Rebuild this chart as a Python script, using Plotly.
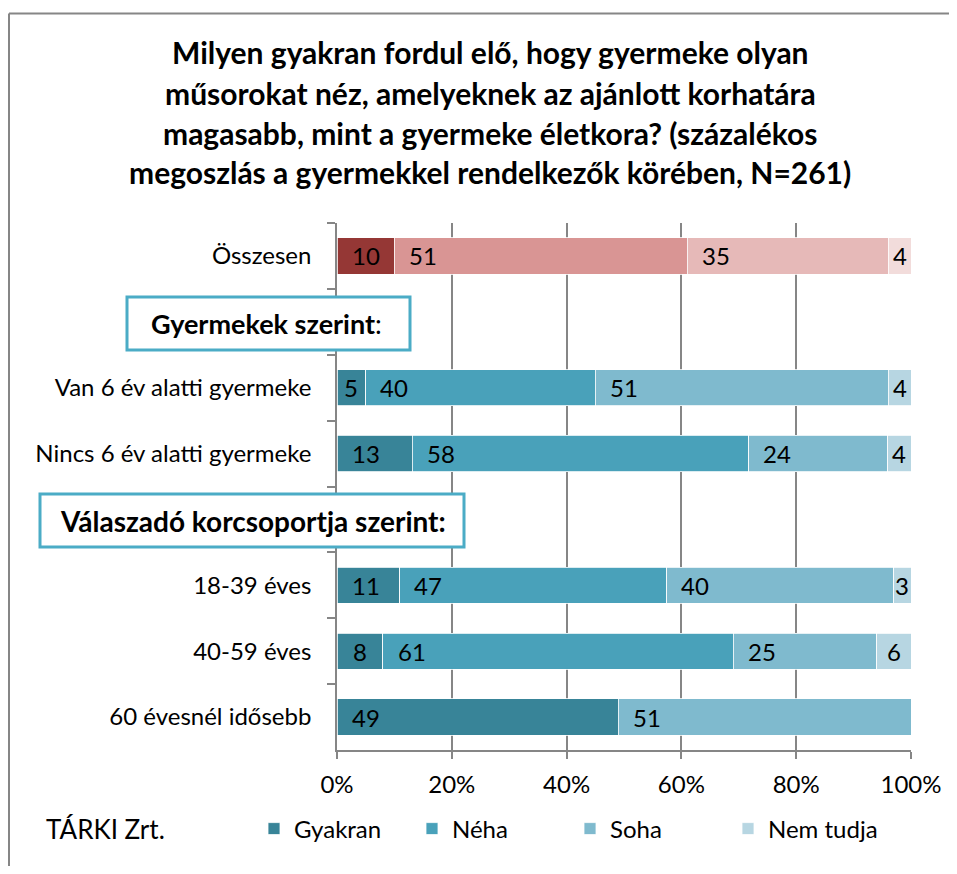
import plotly.graph_objects as go

categories = ["Összesen", " ", "Van 6 év alatti gyermeke", "Nincs 6 év alatti gyermeke",
              "  ", "18-39 éves", "40-59 éves", "60 évesnél idősebb"]
series_names = ["Gyakran", "Néha", "Soha", "Nem tudja"]
total_values = [10, 51, 35, 4]
group_rows = ["Van 6 év alatti gyermeke", "Nincs 6 év alatti gyermeke",
              "18-39 éves", "40-59 éves", "60 évesnél idősebb"]
gyakran = [5, 13, 11, 8, 49]
neha = [40, 58, 47, 61, 0]
soha = [51, 24, 40, 25, 51]
nem_tudja = [4, 4, 3, 6, 0]
x_ticks = [0, 20, 40, 60, 80, 100]
x_tick_labels = ["0%", "20%", "40%", "60%", "80%", "100%"]
title_lines = ["Milyen gyakran fordul elő, hogy gyermeke olyan",
               "műsorokat néz, amelyeknek az ajánlott korhatára",
               "magasabb, mint a gyermeke életkora? (százalékos",
               "megoszlás a gyermekkel rendelkezők körében, N=261)"]
box_labels = ["<b>Gyermekek szerint</b>:", "<b>Válaszadó korcsoportja szerint:</b>"]
source = "TÁRKI Zrt."

red_colors = ["#953735", "#D99594", "#E6B9B8", "#F2DCDB"]
teal_colors = ["#388498", "#49A1BA", "#7FBACE", "#B7D6E2"]
FONT = "Lato, Carlito, Calibri, sans-serif"

OFF = 8  # default page body margin
W, H = 941, 858
SR, SB = OFF + W, OFF + H  # figure right / bottom edge on screen
L, R, T, B = 337, 911, 223, 750  # plot area in screen pixels


def px_x(p):
    return (p - L) / (R - L)


def px_y(p):
    return (B - p) / (B - T)


fig = go.Figure()
for i, name in enumerate(series_names):
    fig.add_trace(go.Bar(
        y=["Összesen"], x=[total_values[i]], orientation="h", name=name,
        marker=dict(color=red_colors[i], line=dict(color="white", width=0.8)),
        showlegend=False, width=0.55, hoverinfo="skip"))

group_series = [gyakran, neha, soha, nem_tudja]
for i, name in enumerate(series_names):
    fig.add_trace(go.Bar(
        y=group_rows, x=group_series[i], orientation="h", name=name,
        marker=dict(color=teal_colors[i], line=dict(color="white", width=0.8)),
        width=0.55, hoverinfo="skip"))

# data labels
annotations = []
rows = [("Összesen", total_values)] + [
    (r, [s[j] for s in group_series]) for j, r in enumerate(group_rows)]
for row, vals in rows:
    tot = sum(vals)
    start = 0.0
    for v in vals:
        nv = v / tot * 100
        if v > 0:
            annotations.append(dict(x=start + min(nv / 2, 5), y=row, xref="x", yref="y",
                                    text=str(v), showarrow=False,
                                    font=dict(family=FONT, size=24, color="black")))
        start += nv

title_y = [52, 93, 133, 172]
for line, yy in zip(title_lines, title_y):
    annotations.append(dict(x=px_x(490), y=px_y(yy), xref="paper", yref="paper",
                            text="<b>" + line + "</b>", showarrow=False,
                            xanchor="center", yanchor="middle",
                            font=dict(family=FONT, size=30, color="black")))

boxes = [(127, 297, 410, 350, 266), (40, 494, 464, 547, 253)]
box_sizes = [27, 28]
shapes = []
for (x0, y0, x1, y1, cx), lab, fs in zip(boxes, box_labels, box_sizes):
    shapes.append(dict(type="rect", xref="paper", yref="paper",
                       x0=px_x(x0), x1=px_x(x1), y0=px_y(y0), y1=px_y(y1),
                       line=dict(color="#4BACC6", width=3), fillcolor="white",
                       layer="above"))
    annotations.append(dict(x=px_x(cx), y=px_y((y0 + y1) / 2), xref="paper", yref="paper",
                            text=lab, showarrow=False, xanchor="center", yanchor="middle",
                            font=dict(family=FONT, size=fs, color="black")))

annotations.append(dict(x=px_x(44), y=px_y(829), xref="paper", yref="paper",
                        text=source, showarrow=False, xanchor="left", yanchor="middle",
                        font=dict(family=FONT, size=26, color="black")))

# outer frame (top and left edges visible)
frame = dict(color="#868686", width=2)
shapes.append(dict(type="line", xref="paper", yref="paper",
                   x0=px_x(9), x1=px_x(960), y0=px_y(13.5), y1=px_y(13.5),
                   line=frame, layer="below"))
shapes.append(dict(type="line", xref="paper", yref="paper",
                   x0=px_x(9), x1=px_x(9), y0=px_y(13.5), y1=px_y(880),
                   line=frame, layer="below"))

fig.update_layout(
    width=W, height=H,
    margin=dict(l=L - OFF, r=SR - R, t=T - OFF, b=SB - B, pad=0, autoexpand=False),
    barmode="stack", barnorm="percent",
    plot_bgcolor="white", paper_bgcolor="white",
    font=dict(family=FONT, size=24, color="black"),
    annotations=annotations, shapes=shapes,
    legend=dict(orientation="h", x=px_x(254), y=px_y(829), xanchor="left", yanchor="middle",
                xref="paper", yref="paper", entrywidth=113, entrywidthmode="pixels",
                font=dict(family=FONT, size=24, color="black"), traceorder="normal",
                bgcolor="rgba(0,0,0,0)", borderwidth=0),
    xaxis=dict(range=[0, 100], tickmode="array", tickvals=x_ticks, ticktext=x_tick_labels,
               showgrid=True, gridcolor="#868686", gridwidth=1.5, showline=True,
               linecolor="#868686", linewidth=1.5, ticks="outside", ticklen=7,
               tickcolor="#868686", tickwidth=1.5, zeroline=False, fixedrange=True,
               ticklabelstandoff=5, automargin=False,
               tickfont=dict(family=FONT, size=24, color="black")),
    yaxis=dict(categoryorder="array", categoryarray=categories, type="category",
               autorange="reversed", showline=True, linecolor="#868686", linewidth=1.5,
               ticks="outside", ticklen=8, tickcolor="#868686", tickwidth=1.5,
               tickson="boundaries", ticklabelstandoff=19, showgrid=False, automargin=False,
               tickfont=dict(family=FONT, size=24, color="black")),
)

fig.write_html("out.html")
